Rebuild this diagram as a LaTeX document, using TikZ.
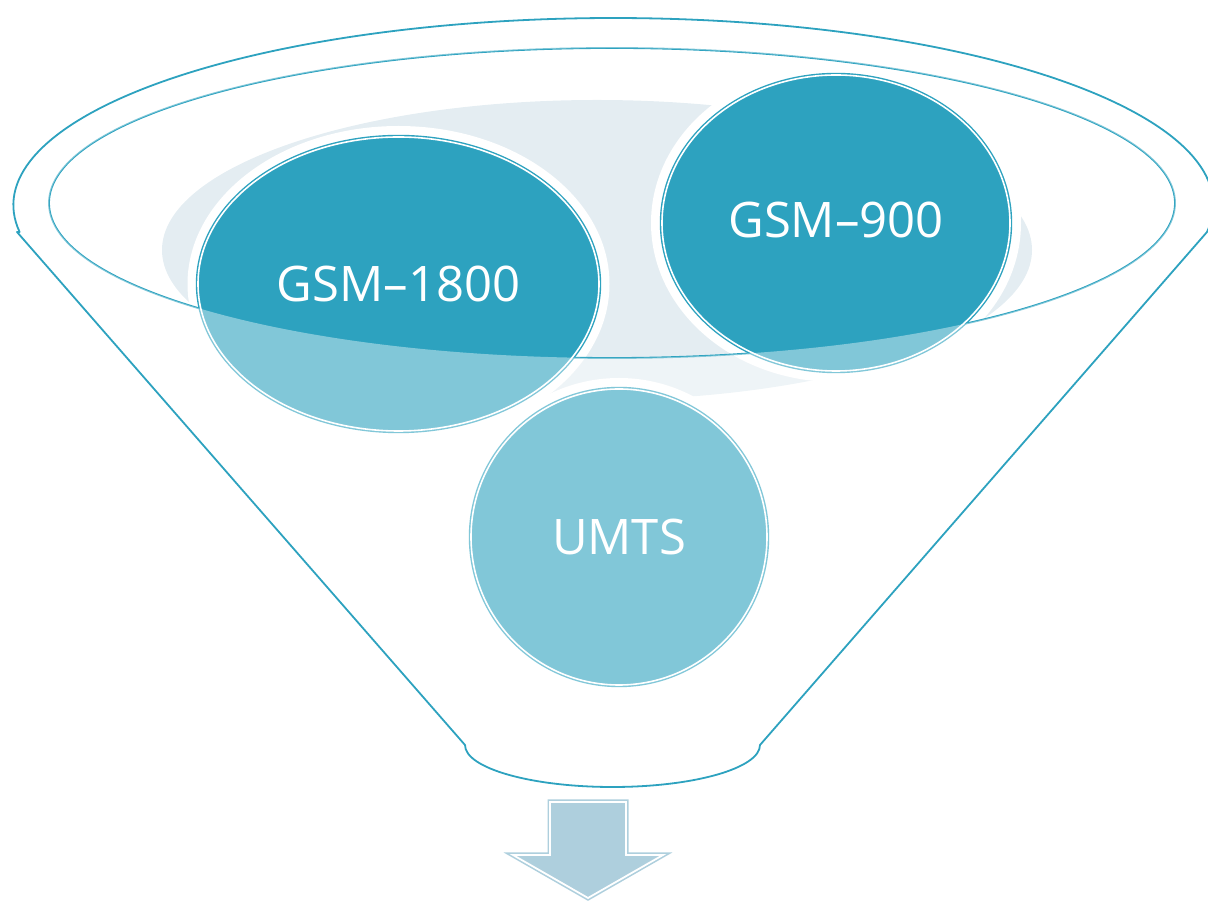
\documentclass[tikz,border=0pt]{standalone}
\usepackage{fontspec}
\setmainfont{Open Sans}
\usetikzlibrary{shapes.geometric}
\definecolor{tealA}{RGB}{45,162,191}
\definecolor{bgA}{RGB}{228,237,242}
\definecolor{arrowA}{RGB}{174,207,221}
\begin{document}
\begin{tikzpicture}[x=1pt,y=1pt,
  circ/.style={ellipse, inner sep=0pt, fill=tealA, draw=tealA, double=white,
    double distance=1.6pt, line width=1.4pt, text=white,
    font=\fontsize{49}{50}\selectfont},
  rim/.style={draw=tealA, line width=1.8pt},
  halo/.style={fill=white},
  overlay/.style={fill=white, fill opacity=0.4, even odd rule},
  arrowshape/.style={draw=arrowA, fill=arrowA, double=white, double distance=1.8pt, line width=1.6pt}]
\useasboundingbox (0,0) rectangle (1208,905);
\clip (0,0) rectangle (1208,905);
\coordinate (c1) at (398.5,621);
\coordinate (c2) at (836,682);
\coordinate (c3) at (619,368);
% background ellipse
\fill[bgA] (597,655) ellipse [x radius=435, y radius=150];
% white halos
\fill[halo] (c1) ellipse [x radius=211, y radius=158];
\fill[halo] (c2) ellipse [x radius=185, y radius=159];
\fill[halo] (c3) circle [radius=159];
% inner rim ellipse
\draw[rim] (612,702) ellipse [x radius=563, y radius=155];
% circles
\node[circ, minimum width=401pt, minimum height=294pt] (g1800) at (c1) {GSM–1800};
\node[circ, minimum width=348pt, minimum height=296pt] (g900) at (c2) {\raisebox{6pt}{GSM–900}};
\node[circ, minimum width=296pt, minimum height=296pt] (umts) at (c3) {UMTS};
% front face overlay
\fill[overlay] (17,673) -- (465,160)
  arc[start angle=180, end angle=360, x radius=147.5, y radius=42]
  -- (1207,673)
  arc[start angle=-8.3, end angle=188.3, x radius=600, y radius=187] -- cycle
  (612,702) ellipse [x radius=563, y radius=155];
% funnel outline
\draw[rim, line join=round] (17,673) -- (465,160)
  arc[start angle=180, end angle=360, x radius=147.5, y radius=42]
  -- (1207,673)
  arc[start angle=-8.3, end angle=188.3, x radius=600, y radius=187] -- cycle;
% down arrow
\draw[arrowshape] (550,103) -- (626,103) -- (626,50) -- (663,50) -- (588,7)
  -- (513,50) -- (550,50) -- cycle;
\end{tikzpicture}
\end{document}
